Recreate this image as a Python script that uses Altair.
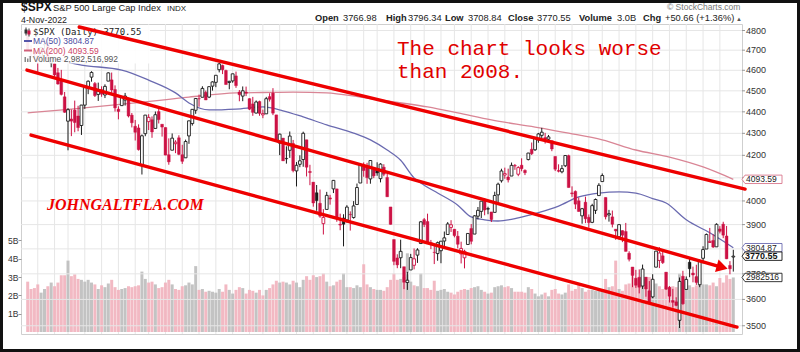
import altair as alt
import pandas as pd

# ---------------- data (S&P 500 daily, 5-Jan-2022 .. 4-Nov-2022) ----------------
PREV_CLOSE = 4793.5

JAN_O = [4788.0, 4693.4, 4697.7, 4655.3, 4669.1, 4728.6, 4733.6, 4637.0, 4632.2, 4588.0, 4547.4, 4471.4, 4356.3, 4366.6, 4408.4, 4380.6, 4336.2, 4431.8]
JAN_H = [4797.7, 4725.0, 4707.9, 4673.0, 4714.1, 4748.8, 4744.1, 4665.1, 4632.2, 4611.6, 4602.1, 4494.5, 4417.4, 4411.0, 4453.2, 4428.7, 4432.7, 4516.9]
JAN_L = [4699.4, 4671.3, 4662.7, 4582.2, 4638.3, 4706.7, 4650.3, 4614.8, 4568.7, 4530.2, 4477.9, 4395.3, 4222.6, 4287.1, 4304.8, 4309.5, 4292.5, 4414.0]
JAN_C = [4700.6, 4696.1, 4677.0, 4670.3, 4713.1, 4726.4, 4659.0, 4662.9, 4577.1, 4532.8, 4482.7, 4397.9, 4410.1, 4356.5, 4349.9, 4326.5, 4431.9, 4515.6]

FEB_O = [4519.6, 4566.4, 4535.4, 4482.8, 4505.8, 4480.0, 4547.0, 4553.2, 4506.3, 4412.6, 4429.3, 4455.8, 4456.1, 4384.6, 4332.7, 4324.9, 4155.8, 4298.4, 4354.2]
FEB_H = [4550.5, 4595.3, 4542.9, 4539.7, 4521.9, 4531.3, 4590.0, 4588.9, 4526.3, 4426.2, 4472.8, 4490.0, 4456.1, 4394.6, 4362.1, 4341.5, 4294.7, 4385.3, 4388.8]
FEB_L = [4484.0, 4544.3, 4470.4, 4451.5, 4471.5, 4465.4, 4547.0, 4484.3, 4401.4, 4364.8, 4429.3, 4429.7, 4373.8, 4327.2, 4267.1, 4221.5, 4114.7, 4286.8, 4315.1]
FEB_C = [4546.5, 4589.4, 4477.4, 4500.5, 4483.9, 4521.5, 4587.2, 4504.1, 4418.6, 4401.7, 4471.1, 4475.0, 4380.3, 4348.9, 4304.8, 4225.5, 4288.7, 4384.7, 4373.9]

MAR_O = [4363.1, 4322.6, 4401.3, 4342.1, 4327.0, 4202.7, 4223.1, 4252.6, 4279.5, 4202.8, 4188.8, 4288.1, 4345.1, 4407.3, 4462.4, 4469.1, 4493.1, 4470.0, 4522.7, 4541.1, 4602.9, 4624.2, 4599.0]
MAR_H = [4378.5, 4401.5, 4416.8, 4342.1, 4327.0, 4276.9, 4299.4, 4268.3, 4291.0, 4247.6, 4271.1, 4358.0, 4412.7, 4465.4, 4481.8, 4522.0, 4501.1, 4520.6, 4546.0, 4575.7, 4637.3, 4627.8, 4603.1]
MAR_L = [4279.5, 4322.6, 4345.6, 4285.0, 4199.9, 4157.9, 4223.1, 4209.8, 4200.5, 4161.7, 4187.9, 4252.0, 4335.7, 4390.6, 4424.3, 4469.1, 4455.8, 4465.2, 4501.1, 4517.7, 4589.7, 4581.3, 4530.4]
MAR_C = [4306.3, 4386.5, 4363.5, 4328.9, 4201.1, 4170.7, 4277.9, 4259.5, 4204.3, 4173.1, 4262.5, 4357.9, 4411.7, 4463.1, 4461.2, 4511.6, 4456.2, 4520.2, 4543.1, 4575.5, 4631.6, 4602.5, 4530.4]

APR_O = [4540.3, 4548.0, 4572.5, 4494.2, 4474.7, 4494.2, 4462.6, 4437.6, 4394.3, 4449.1, 4385.6, 4390.6, 4472.3, 4489.2, 4385.8, 4255.3, 4278.1, 4186.5, 4222.6, 4253.8]
APR_H = [4548.7, 4583.5, 4593.5, 4503.9, 4521.2, 4520.4, 4464.4, 4471.0, 4453.9, 4452.8, 4410.3, 4471.0, 4488.3, 4512.9, 4385.8, 4299.0, 4278.1, 4240.7, 4308.5, 4269.7]
APR_L = [4507.6, 4539.2, 4514.2, 4450.0, 4450.3, 4474.6, 4408.4, 4381.3, 4392.7, 4381.4, 4370.3, 4390.6, 4448.8, 4384.5, 4267.6, 4200.8, 4175.0, 4162.9, 4188.6, 4124.3]
APR_C = [4545.9, 4582.6, 4525.1, 4481.2, 4500.2, 4488.3, 4412.5, 4397.5, 4446.6, 4392.6, 4391.7, 4462.2, 4459.5, 4393.7, 4271.8, 4296.1, 4175.2, 4184.0, 4287.5, 4131.9]

MAY_O = [4130.6, 4159.8, 4181.2, 4270.4, 4128.2, 4081.3, 4035.2, 3990.1, 3904.0, 3963.9, 4013.0, 4052.0, 4052.0, 3899.0, 3927.8, 3919.4, 3942.9, 3929.6, 3984.6, 4077.4, 4151.1]
MAY_H = [4169.8, 4200.1, 4307.7, 4270.4, 4157.7, 4081.3, 4068.8, 4049.1, 3964.8, 4038.9, 4026.2, 4090.7, 4052.0, 3946.0, 3943.4, 3981.9, 3955.7, 3999.3, 4075.1, 4158.5, 4168.3]
MAY_L = [4062.5, 4147.1, 4148.9, 4106.0, 4067.9, 3975.5, 3958.2, 3928.8, 3858.9, 3963.9, 3984.0, 4033.9, 3911.9, 3876.6, 3810.3, 3909.0, 3875.1, 3925.0, 3984.6, 4077.4, 4104.9]
MAY_C = [4155.4, 4175.5, 4300.2, 4146.9, 4123.3, 3991.2, 4001.1, 3935.2, 3930.1, 4023.9, 4008.0, 4088.9, 3923.7, 3900.8, 3901.4, 3973.8, 3941.5, 3978.7, 4057.8, 4158.2, 4132.2]

JUN_O = [4149.8, 4095.4, 4137.6, 4134.7, 4096.5, 4147.1, 4101.7, 3974.4, 3838.2, 3763.5, 3764.1, 3728.2, 3665.9, 3715.3, 3733.9, 3774.7, 3821.8, 3920.8, 3913.0, 3825.1, 3786.0]
JUN_H = [4166.5, 4177.5, 4142.7, 4168.8, 4164.9, 4160.1, 4119.1, 3974.4, 3838.2, 3778.2, 3837.6, 3728.2, 3707.7, 3779.7, 3801.8, 3802.6, 3913.7, 3927.7, 3945.9, 3836.5, 3819.0]
JUN_L = [4073.9, 4074.4, 4098.7, 4109.2, 4080.2, 4107.2, 4017.2, 3900.2, 3734.3, 3722.3, 3722.3, 3639.8, 3636.9, 3715.3, 3717.7, 3743.5, 3821.8, 3889.7, 3820.1, 3799.0, 3738.7]
JUN_C = [4101.2, 4176.8, 4108.5, 4121.4, 4160.7, 4115.8, 4017.8, 3900.9, 3749.6, 3735.5, 3790.0, 3666.8, 3674.8, 3764.8, 3759.9, 3795.7, 3911.7, 3900.1, 3821.6, 3818.8, 3785.4]

JUL_O = [3781.0, 3792.6, 3832.0, 3858.9, 3888.3, 3880.9, 3852.0, 3779.7, 3764.0, 3818.0, 3883.8, 3860.7, 3935.3, 3955.5, 4000.2, 3965.7, 3953.2, 3951.4, 4026.1, 4087.3]
JUL_H = [3829.8, 3832.2, 3871.2, 3910.6, 3918.5, 3880.9, 3873.4, 3829.4, 3796.4, 3863.6, 3902.4, 3939.8, 3974.1, 3999.3, 4012.4, 3975.3, 3953.2, 4039.6, 4079.0, 4140.2]
JUL_L = [3752.1, 3742.1, 3809.4, 3858.9, 3869.3, 3847.2, 3802.4, 3741.3, 3721.6, 3817.2, 3818.6, 3860.7, 3922.0, 3927.6, 3938.9, 3943.5, 3910.7, 3951.4, 3993.0, 4079.2]
JUL_C = [3825.3, 3831.4, 3845.1, 3902.6, 3899.4, 3854.4, 3818.8, 3801.8, 3790.4, 3863.2, 3830.9, 3936.7, 3959.9, 3999.0, 3961.6, 3966.8, 3921.1, 4023.6, 4072.4, 4130.3]

AUG_O = [4112.4, 4104.2, 4108.0, 4154.9, 4115.9, 4155.9, 4133.1, 4181.0, 4227.4, 4225.0, 4269.4, 4290.5, 4280.4, 4273.1, 4266.3, 4195.1, 4133.1, 4126.6, 4153.3, 4198.7, 4034.6, 4041.3, 4000.7]
AUG_H = [4145.0, 4140.5, 4167.7, 4161.3, 4151.6, 4186.6, 4137.3, 4211.0, 4257.9, 4280.5, 4301.8, 4325.3, 4302.2, 4292.5, 4266.3, 4195.1, 4159.8, 4156.6, 4200.5, 4203.0, 4063.0, 4045.0, 4015.4]
AUG_L = [4096.0, 4079.8, 4108.0, 4135.4, 4107.3, 4129.0, 4112.1, 4177.3, 4201.4, 4219.8, 4256.9, 4277.8, 4253.1, 4262.0, 4218.7, 4129.9, 4124.0, 4120.0, 4147.6, 4057.7, 4017.4, 3965.2, 3954.5]
AUG_C = [4118.6, 4091.2, 4155.2, 4151.9, 4145.2, 4140.1, 4122.5, 4210.2, 4207.3, 4280.2, 4297.1, 4305.2, 4274.0, 4283.7, 4228.5, 4138.0, 4128.7, 4140.8, 4199.1, 4057.7, 4030.6, 3986.2, 3955.0]

SEP_O = [3936.7, 3994.7, 3930.9, 3909.4, 3959.9, 4022.9, 4083.7, 4015.0, 3940.7, 3932.4, 3881.0, 3849.9, 3875.2, 3871.4, 3782.4, 3727.1, 3682.7, 3686.4, 3651.9, 3687.0, 3633.5]
SEP_H = [3970.2, 4018.4, 3942.6, 3987.9, 4010.5, 4076.8, 4119.3, 4015.0, 3961.9, 3959.1, 3881.0, 3900.5, 3876.0, 3907.1, 3790.5, 3727.1, 3715.7, 3717.5, 3736.7, 3687.0, 3671.4]
SEP_L = [3903.7, 3906.2, 3886.8, 3906.0, 3944.8, 4022.9, 4083.7, 3921.7, 3912.4, 3888.3, 3837.1, 3838.5, 3827.5, 3789.5, 3749.4, 3647.5, 3644.8, 3623.3, 3640.6, 3610.4, 3584.1]
SEP_C = [3966.9, 3924.3, 3908.2, 3979.9, 4006.2, 4067.4, 4110.4, 3932.7, 3946.0, 3901.4, 3873.3, 3899.9, 3855.9, 3789.9, 3758.0, 3693.2, 3655.0, 3647.3, 3719.0, 3640.5, 3585.6]

OCT_O = [3609.8, 3726.5, 3753.3, 3772.0, 3706.7, 3647.5, 3595.9, 3590.8, 3520.4, 3690.4, 3638.7, 3746.3, 3703.1, 3689.1, 3657.1, 3762.0, 3799.4, 3826.0, 3834.7, 3808.3, 3881.9]
OCT_H = [3698.4, 3791.9, 3806.9, 3797.9, 3706.7, 3652.2, 3640.7, 3608.3, 3685.4, 3712.0, 3689.7, 3762.8, 3728.6, 3736.0, 3757.9, 3810.7, 3862.9, 3886.2, 3860.0, 3905.4, 3893.7]
OCT_L = [3604.9, 3726.5, 3722.7, 3739.2, 3636.7, 3588.1, 3568.5, 3573.9, 3491.6, 3579.7, 3638.7, 3686.5, 3666.5, 3656.4, 3647.4, 3741.7, 3799.4, 3824.1, 3803.8, 3808.3, 3863.2]
OCT_C = [3678.4, 3790.9, 3783.3, 3744.5, 3639.7, 3612.4, 3588.8, 3577.0, 3669.9, 3583.1, 3678.0, 3720.0, 3695.2, 3665.8, 3752.8, 3797.3, 3859.1, 3830.6, 3807.3, 3901.1, 3872.0]

NOV_O = [3901.8, 3852.9, 3733.3, 3767.0]
NOV_H = [3911.8, 3894.4, 3750.6, 3796.3]
NOV_L = [3843.8, 3758.7, 3698.2, 3708.8]
NOV_C = [3856.1, 3759.7, 3719.9, 3770.6]

# volume, billions
VOLUME = [2.75, 2.35, 2.4, 2.6, 2.15, 2.35, 2.5, 2.7, 2.5, 2.7, 3.1, 3.1, 3.9, 3.05, 3.15, 2.9, 2.85, 2.75,
          2.85, 2.7, 2.6, 2.35, 2.55, 2.45, 2.65, 2.85, 2.45, 2.3, 2.35, 2.4, 2.5, 2.45, 2.5, 2.55, 3.3, 2.9, 2.7,
          2.75, 2.6, 2.4, 2.45, 2.7, 2.85, 2.6, 2.35, 2.3, 2.5, 2.55, 2.7, 2.6, 3.6, 2.3, 2.35, 2.2, 2.25, 2.2, 2.15, 2.35, 2.2, 2.6,
          2.3, 2.1, 2.3, 2.45, 2.4, 2.1, 2.3, 2.25, 2.15, 2.3, 2.0, 2.3, 2.4, 2.6, 2.8, 2.7, 2.75, 2.7, 2.6, 2.8,
          2.7, 2.45, 2.85, 3.05, 2.85, 3.1, 3.0, 3.05, 3.2, 2.75, 2.5, 2.55, 2.75, 2.85, 3.2, 2.45, 2.45, 2.4, 2.55, 2.45, 3.7,
          2.6, 2.45, 2.35, 2.3, 2.3, 2.25, 2.45, 2.85, 3.2, 2.85, 2.9, 3.0, 4.3, 2.75, 2.55, 2.5, 3.2, 2.4, 2.4, 2.3, 2.8,
          2.25, 2.3, 2.35, 2.2, 2.15, 2.05, 2.2, 2.3, 2.35, 2.3, 2.4, 2.45, 2.5, 2.3, 2.2, 2.1, 2.15, 2.45, 2.5, 2.55,
          2.45, 2.5, 2.4, 2.2, 2.2, 2.2, 2.15, 2.45, 2.35, 2.1, 1.95, 2.05, 2.15, 1.95, 2.3, 2.35, 2.1, 2.05, 2.15, 2.6, 2.25, 2.35, 2.6,
          2.4, 2.2, 2.3, 2.3, 2.25, 2.35, 2.35, 2.9, 2.45, 2.5, 3.9, 2.35, 2.25, 2.6, 2.65, 3.05, 2.85, 2.75, 2.65, 2.9, 3.0,
          2.6, 2.65, 2.5, 2.35, 2.5, 2.3, 2.5, 2.45, 3.2, 2.7, 2.5, 2.55, 2.45, 2.55, 2.95, 2.6, 2.6, 2.55, 2.7, 2.5, 2.95,
          2.7, 3.1, 2.9, 2.98]

# moving averages (bar index, value)
MA50_I = [0, 8, 16, 28, 36, 44, 48, 54, 62, 70, 76, 82, 89, 97, 102, 107, 111, 115, 118, 122, 128, 132, 136, 140, 146, 152, 158, 164, 170, 176, 181, 186, 190, 196, 203, 210]
MA50_V = [4668, 4655, 4626, 4601, 4552, 4490, 4442, 4409, 4413, 4423, 4405, 4376, 4339, 4301, 4270, 4224, 4178, 4100, 4068, 4034, 3982, 3932, 3920, 3915, 3928, 3950, 3978, 4017, 4034, 4039, 4034, 4010, 3991, 3920, 3866, 3804.87]
MA200_I = [0, 13, 32, 48, 62, 70, 79, 89, 99, 109, 119, 128, 138, 151, 161, 171, 181, 191, 201, 210]
MA200_V = [4395, 4413, 4442, 4470, 4490, 4492, 4494, 4490, 4470, 4447, 4423, 4395, 4362, 4329, 4301, 4270, 4224, 4192, 4148, 4093.59]

# hand-drawn channel lines (bar index, price)
CH_ID = ["top", "top", "mid", "mid", "bot", "bot"]
CH_I = [15.35, 213.5, -0.2, 206.7, 1.0, 211.1]
CH_P = [4818, 4051, 4601, 3726, 4292, 3495]

# axis labels
MONTH_I = [18, 37, 60, 80, 101, 122, 142, 165, 186, 207]
MONTHS = ["Feb", "Mar", "Apr", "May", "Jun", "Jul", "Aug", "Sep", "Oct", "Nov"]
WEEK_I = [3, 8, 12, 17, 22, 27, 32, 36, 41, 46, 51, 56, 61, 66, 70, 75, 80, 85, 90, 95, 100, 104, 109, 114, 118,
          123, 127, 132, 137, 142, 147, 152, 157, 162, 167, 171, 176, 181, 186, 191, 196, 201, 206]
PRICE_GRID = [3500, 3600, 3700, 3800, 3900, 4000, 4100, 4200, 4300, 4400, 4500, 4600, 4700, 4800]
PRICE_LABELS = [3500, 3600, 3700, 3900, 4000, 4200, 4300, 4400, 4500, 4600, 4700, 4800]
VOL_TICKS = [1, 2, 3, 4, 5]

# ---------------- build tables ----------------
O = JAN_O + FEB_O + MAR_O + APR_O + MAY_O + JUN_O + JUL_O + AUG_O + SEP_O + OCT_O + NOV_O
H = JAN_H + FEB_H + MAR_H + APR_H + MAY_H + JUN_H + JUL_H + AUG_H + SEP_H + OCT_H + NOV_H
L = JAN_L + FEB_L + MAR_L + APR_L + MAY_L + JUN_L + JUL_L + AUG_L + SEP_L + OCT_L + NOV_L
C = JAN_C + FEB_C + MAR_C + APR_C + MAY_C + JUN_C + JUL_C + AUG_C + SEP_C + OCT_C + NOV_C
n = min(len(O), len(H), len(L), len(C), len(VOLUME))

RED = "#cc1144"
BLK = "#1a1a1a"
rows = []
prev = PREV_CLOSE
for i in range(n):
    down = C[i] < prev
    rows.append(dict(i=i, o=O[i], h=H[i], l=L[i], c=C[i], v=VOLUME[i],
                     col=RED if down else BLK,
                     vcol="#f1b1bd" if down else "#bdbdbd",
                     hollow=bool(C[i] > O[i])))
    prev = C[i]
df = pd.DataFrame(rows)
ma50 = pd.DataFrame({"i": MA50_I, "p": MA50_V})
ma200 = pd.DataFrame({"i": MA200_I, "p": MA200_V})
ch = pd.DataFrame({"id": CH_ID, "i": CH_I, "p": CH_P})
weeks = pd.DataFrame({"i": WEEK_I})
pgrid = pd.DataFrame({"p": PRICE_GRID})
plabels = pd.DataFrame({"p": PRICE_LABELS, "t": [str(v) for v in PRICE_LABELS]})
ONE = pd.DataFrame({"k": [0]})

# ---------------- geometry ----------------
OX, OY = 21, 24          # plot origin in the page
W, HH = 721, 310
xs = alt.Scale(domain=[-0.5, 211.1], nice=False, zero=False)
ys = alt.Scale(type="log", domain=[3469.3, 4833.5], nice=False)
vs = alt.Scale(domain=[-0.11, 16.83], nice=False, zero=False)

month_expr = "[" + ",".join("'%s'" % m for m in MONTHS) + "][indexof([" + ",".join(str(v) for v in MONTH_I) + "], datum.value)]"
x_axis = alt.Axis(values=MONTH_I, labelExpr=month_expr, grid=False, ticks=False, domain=False,
                  labelFontSize=9, labelColor="#333", labelFont="Liberation Sans", labelPadding=3, title=None)
v_axis = alt.Axis(values=VOL_TICKS, labelExpr="datum.value + 'B'", grid=False, domain=False, tickSize=3,
                  tickColor="#999", labelFontSize=8.5, labelColor="#333", labelFont="Liberation Sans",
                  labelPadding=0, title=None, orient="left")


def T(X, Y, s, size=9.0, weight="normal", color="#222", font="Liberation Sans", style="normal", align="left"):
    return alt.Chart(ONE).mark_text(text=s, fontSize=size, fontWeight=weight, color=color, font=font,
                                    fontStyle=style, align=align, baseline="alphabetic").encode(
        x=alt.value(X - OX), y=alt.value(Y - OY))


def R(X1, Y1, X2, Y2, color, width=1.0):
    return alt.Chart(ONE).mark_rule(color=color, strokeWidth=width).encode(
        x=alt.value(X1 - OX), y=alt.value(Y1 - OY), x2=alt.value(X2 - OX), y2=alt.value(Y2 - OY))


def BOX(X1, Y1, X2, Y2, fill, opacity=1.0, stroke="white", sw=0.0):
    return alt.Chart(ONE).mark_rect(fill=fill, fillOpacity=opacity, stroke=stroke, strokeWidth=sw).encode(
        x=alt.value(X1 - OX), y=alt.value(Y1 - OY), x2=alt.value(X2 - OX), y2=alt.value(Y2 - OY))


TAG = "M -1 0 L -0.85 -0.21 L 1 -0.21 L 1 0.21 L -0.85 0.21 Z"

# ---------------- volume panel ----------------
grid_w = alt.Chart(weeks).mark_rule(color="#e6e6e6", strokeWidth=1).encode(x=alt.X("i:Q", scale=xs, axis=None))
vol = alt.Chart(df).mark_bar(size=3.0, opacity=0.9).encode(
    x=alt.X("i:Q", scale=xs, axis=x_axis),
    y=alt.Y("v:Q", scale=vs, axis=v_axis),
    y2=alt.value(HH),
    color=alt.Color("vcol:N", scale=None),
)
vol_layer = alt.layer(grid_w, vol)

# ---------------- price panel ----------------
grid_p = alt.Chart(pgrid).mark_rule(color="#e6e6e6", strokeWidth=1).encode(
    y=alt.Y("p:Q", scale=ys, axis=None))
ticks_p = alt.Chart(pgrid).mark_rule(color="#999", strokeWidth=1).encode(
    y=alt.Y("p:Q", scale=ys, axis=None), x=alt.value(W), x2=alt.value(W + 3))
labels_p = alt.Chart(plabels).mark_text(align="left", baseline="middle", fontSize=9, font="Liberation Sans",
                                        color="#333").encode(
    y=alt.Y("p:Q", scale=ys, axis=None), x=alt.value(W + 4), text="t:N")

l200 = alt.Chart(ma200).mark_line(color="#d98595", strokeWidth=1.3, interpolate="monotone").encode(
    x=alt.X("i:Q", scale=xs, axis=None), y=alt.Y("p:Q", scale=ys, axis=None))
l50 = alt.Chart(ma50).mark_line(color="#6a6ab0", strokeWidth=1.3, interpolate="monotone").encode(
    x=alt.X("i:Q", scale=xs, axis=None), y=alt.Y("p:Q", scale=ys, axis=None))
wick = alt.Chart(df).mark_rule(strokeWidth=1).encode(
    x=alt.X("i:Q", scale=xs, axis=None), y=alt.Y("l:Q", scale=ys, axis=None), y2="h:Q",
    color=alt.Color("col:N", scale=None))
body_f = alt.Chart(df).transform_filter("!datum.hollow").mark_bar(size=2.8, strokeWidth=0.4).encode(
    x=alt.X("i:Q", scale=xs, axis=None), y=alt.Y("o:Q", scale=ys, axis=None), y2="c:Q",
    color=alt.Color("col:N", scale=None), stroke=alt.Stroke("col:N", scale=None))
body_h = alt.Chart(df).transform_filter("datum.hollow").mark_bar(size=2.8, strokeWidth=0.9, fill="white").encode(
    x=alt.X("i:Q", scale=xs, axis=None), y=alt.Y("o:Q", scale=ys, axis=None), y2="c:Q",
    stroke=alt.Stroke("col:N", scale=None))

legend = [
    BOX(22, 25, 150, 63.5, "white", 0.9),
    R(26, 27.5, 26, 35.5, "#333", 1), BOX(24.5, 29.5, 27.5, 33.5, "#333"), R(29, 28.5, 29, 36.5, "#333", 1), BOX(27.5, 30.5, 30.5, 34.5, "#cc1144"),
    T(33, 35, "$SPX (Daily) 3770.55", 9, color="#222", font="DejaVu Sans Mono"),
    R(24, 41, 32, 41, "#5555aa", 2),
    T(33, 44.2, "MA(50) 3804.87", 8.5, color="#4a4aa0"),
    R(24, 50.5, 32, 50.5, "#d0607a", 2),
    T(33, 53.7, "MA(200) 4093.59", 8.5, color="#cc4466"),
    BOX(24.5, 57, 26, 62, "#888"), BOX(27, 58.5, 28.5, 62, "#888"), BOX(29.5, 56, 31, 62, "#888"),
    T(33, 62.3, "Volume 2,982,516,992", 8.5, color="#555"),
]

chan = alt.Chart(ch).mark_line(color="#ee0000", strokeWidth=3.4, strokeCap="round").encode(
    x=alt.X("i:Q", scale=xs, axis=None), y=alt.Y("p:Q", scale=ys, axis=None), detail="id:N")
arrow_df = pd.DataFrame({"i": [CH_I[3]], "p": [CH_P[3]]})
arrow = alt.Chart(arrow_df).mark_point(shape="triangle-right", size=170, filled=True, color="#ee0000",
                                       opacity=1, angle=15.6).encode(
    x=alt.X("i:Q", scale=xs, axis=None), y=alt.Y("p:Q", scale=ys, axis=None))

tags_df = pd.DataFrame({"p": [4093.59, 3804.87, 3770.55], "t": ["4093.59", "3804.87", "3770.55"],
                        "sc": ["#d9778c", "#6b6bb0", "#111"], "b": [False, False, True]})
tags = alt.Chart(tags_df).mark_point(shape=TAG, size=1600, filled=True, fill="white", strokeWidth=0.9,
                                     opacity=1).encode(
    x=alt.value(762 - OX), y=alt.Y("p:Q", scale=ys, axis=None), stroke=alt.Stroke("sc:N", scale=None))
tags_t = alt.Chart(tags_df).transform_filter("!datum.b").mark_text(
    align="left", baseline="middle", fontSize=8.5, font="Liberation Sans", color="#222").encode(
    x=alt.value(746 - OX), y=alt.Y("p:Q", scale=ys, axis=None), text="t:N")
tags_tb = alt.Chart(tags_df).transform_filter("datum.b").mark_text(
    align="left", baseline="middle", fontSize=9, font="Liberation Sans", fontWeight="bold",
    color="#111").encode(
    x=alt.value(745 - OX), y=alt.Y("p:Q", scale=ys, axis=None), text="t:N")

notes = [
    T(397, 55, "The chart looks worse", 21, color="#e00000", font="Liberation Mono"),
    T(397, 78, "than 2008.", 21, color="#e00000", font="Liberation Mono"),
    T(47, 209.5, "JOHNGALTFLA.COM", 16, weight="bold", style="italic", color="#ee0000", font="Liberation Serif"),
]

header = [
    T(21, 11, "$SPX", 12, weight="bold", color="#111"),
    T(53, 11, "S&P 500 Large Cap Index", 9.3, color="#222"),
    T(167, 11, "INDX", 8, color="#222"),
    T(21, 22.5, "4-Nov-2022", 8.8, color="#222"),
    T(667, 10, "\u00a9 StockCharts.com", 8.5, color="#777"),
    T(315, 21, "Open", 9.3, weight="bold"), T(343, 21, "3766.98", 9.3),
    T(386, 21, "High", 9.3, weight="bold"), T(408, 21, "3796.34", 9.3),
    T(445, 21, "Low", 9.3, weight="bold"), T(468, 21, "3708.84", 9.3),
    T(508, 21, "Close", 9.3, weight="bold"), T(537, 21, "3770.55", 9.3),
    T(579, 21, "Volume", 9.3, weight="bold"), T(617, 21, "3.0B", 9.3),
    T(643, 21, "Chg", 9.3, weight="bold"), T(665, 21, "+50.66 (+1.36%)", 9.3),
    T(736, 21, "\u25b2", 6, color="#555"),
]

frame = alt.Chart(ONE).mark_rect(fillOpacity=0, stroke="#111", strokeWidth=3).encode(
    x=alt.value(1.5 - OX), y=alt.value(1.5 - OY), x2=alt.value(798.5 - OX), y2=alt.value(350.5 - OY))

price_layer = alt.layer(grid_p, ticks_p, labels_p, l200, l50, wick, body_f, body_h, *legend, chan, arrow,
                        tags, tags_t, tags_tb, *notes, *header, frame)

# volume value tag (drawn last so it covers the 3700 label like the original)
vtag_df = pd.DataFrame({"v": [VOLUME[-1]], "t": ["2982516"]})
vtag = alt.Chart(vtag_df).mark_point(shape=TAG, size=1600, filled=True, fill="white", stroke="#222",
                                     strokeWidth=0.9, opacity=1).encode(
    x=alt.value(762 - OX), y=alt.Y("v:Q", scale=vs, axis=None))
vtag_t = alt.Chart(vtag_df).mark_text(align="left", baseline="middle", fontSize=8.5, font="Liberation Sans",
                                      color="#222").encode(
    x=alt.value(746 - OX), y=alt.Y("v:Q", scale=vs, axis=None), text="t:N")
vtag_layer = alt.layer(vtag, vtag_t)

chart = alt.layer(vol_layer, price_layer, vtag_layer).resolve_scale(y="independent").properties(
    width=W, height=HH,
    padding={"left": OX, "top": OY, "right": 800 - OX - W, "bottom": 352 - OY - HH},
    autosize=alt.AutoSizeParams(type="none"),
    background="white",
).configure_view(stroke="#cfcfcf", strokeWidth=1)

chart.save("out.html", embed_options={"renderer": "svg", "actions": False})
